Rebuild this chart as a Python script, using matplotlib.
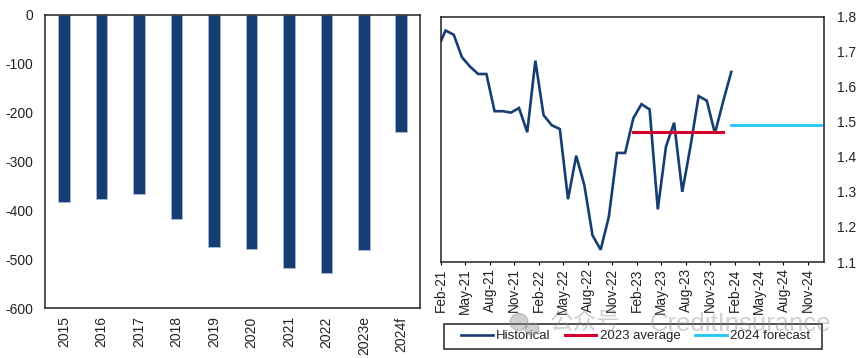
import numpy as np
import matplotlib.pyplot as plt
from matplotlib.patches import Ellipse, Rectangle

plt.rcParams['font.family'] = ['Liberation Sans', 'Noto Sans CJK SC']
plt.rcParams['axes.unicode_minus'] = False

# Left chart
years = ['2015', '2016', '2017', '2018', '2019', '2020', '2021', '2022', '2023e', '2024f']
balance = [-382, -376, -367, -418, -476, -480, -519, -528, -482, -240]

# Right chart, monthly, first point falls just before the axis starts
historical = [1.708, 1.760, 1.748, 1.684, 1.657, 1.636, 1.636, 1.530, 1.530, 1.526,
              1.539, 1.470, 1.674, 1.519, 1.490, 1.479, 1.279, 1.403, 1.319, 1.176,
              1.135, 1.229, 1.411, 1.411, 1.510, 1.550, 1.535, 1.250, 1.429, 1.497,
              1.300, 1.429, 1.573, 1.560, 1.467, 1.557, 1.642]
avg_2023 = [1.47] * 12
forecast_2024 = [1.491] * 12
month_labels = ['Feb-21', 'May-21', 'Aug-21', 'Nov-21', 'Feb-22', 'May-22', 'Aug-22', 'Nov-22',
                'Feb-23', 'May-23', 'Aug-23', 'Nov-23', 'Feb-24', 'May-24', 'Aug-24', 'Nov-24']

W, H = 865, 358
NAVY = '#163e73'
RED = '#d6002f'
CYAN = '#1ec8f5'
INK = '#222222'
MARK = '#8a8a8a'


def px_axes(fig, left, top, right, bottom):
    return fig.add_axes([left / W, 1 - bottom / H, (right - left) / W, (bottom - top) / H])


fig = plt.figure(figsize=(W / 100, H / 100), dpi=100)

# Bar chart
ax1 = px_axes(fig, 45.3, 15, 420, 308)
ax1.bar(range(len(years)), balance, width=0.31, color=NAVY, edgecolor='#a9c0dc', linewidth=0.5)
ax1.set_xlim(-0.5, len(years) - 0.5)
ax1.set_ylim(-600, 0)
ax1.set_yticks(range(-600, 1, 100))
ax1.set_xticks(range(len(years)))
ax1.set_xticklabels(years, rotation=90)
ax1.tick_params(axis='both', length=0, labelsize=10, labelcolor=INK)
ax1.tick_params(axis='x', pad=6)
ax1.tick_params(axis='y', pad=8.5)
for s in ax1.spines.values():
    s.set_linewidth(1.1)
    s.set_color(INK)

# Line chart
ax2 = px_axes(fig, 440.7, 16.5, 824.3, 262)
x = np.arange(len(historical)) - 0.4
ax2.plot(x, historical, color=NAVY, lw=1.9, label='Historical', solid_joinstyle='miter')
ax2.plot(np.arange(12) + 23.6, avg_2023, color=RED, lw=2.2, label='2023 average')
ax2.plot(np.arange(12) + 35.6, forecast_2024, color=CYAN, lw=2.0, label='2024 forecast')
ax2.set_xlim(0, 47)
ax2.set_ylim(1.1, 1.8)
ax2.yaxis.tick_right()
ax2.set_yticks(np.arange(1.1, 1.81, 0.1))
ax2.set_yticklabels([f'{v:.1f}' for v in np.arange(1.1, 1.81, 0.1)])
ax2.set_xticks(np.arange(len(month_labels)) * 3)
ax2.set_xticklabels(month_labels, rotation=90)
ax2.tick_params(axis='y', length=0, labelsize=10, pad=9.5, labelcolor=INK)
ax2.tick_params(axis='x', length=2.5, width=0.8, labelsize=9.8, pad=2, labelcolor=INK)
for s in ax2.spines.values():
    s.set_linewidth(1.1)
    s.set_color(INK)

# Legend, frame drawn apart since it is wider than the entries need
fig.add_artist(Rectangle((443.5 / W, 1 - 348.5 / H), 378.5 / W, 24.5 / H, fill=False,
                         edgecolor=INK, linewidth=1.1))
fig.legend(*ax2.get_legend_handles_labels(), ncols=3, loc='center',
           bbox_to_anchor=(635.5 / W, 1 - 336.3 / H), fontsize=9.5, frameon=False,
           handlelength=2.4, handletextpad=0.25, columnspacing=1.1, labelcolor=INK)

# Watermark over the legend
fig.text(550 / W, 1 - 324 / H, '公众号', fontsize=17, color=MARK, alpha=0.4, va='center', ha='left', zorder=10)
fig.text(635 / W, 1 - 324 / H, '·', fontsize=14, color=MARK, alpha=0.4, va='center', ha='center', zorder=10)
fig.text(650 / W, 1 - 324 / H, 'CreditInsurance', fontsize=18.5, color=MARK, alpha=0.4,
         va='center', ha='left', zorder=10)
fig.add_artist(Ellipse((519 / W, 1 - 322 / H), 18 / W, 17 / H, color=MARK, alpha=0.4, zorder=10))
fig.add_artist(Ellipse((532 / W, 1 - 329 / H), 14 / W, 12 / H, color=MARK, alpha=0.4, zorder=10))

fig.savefig('out.png', dpi=100)
